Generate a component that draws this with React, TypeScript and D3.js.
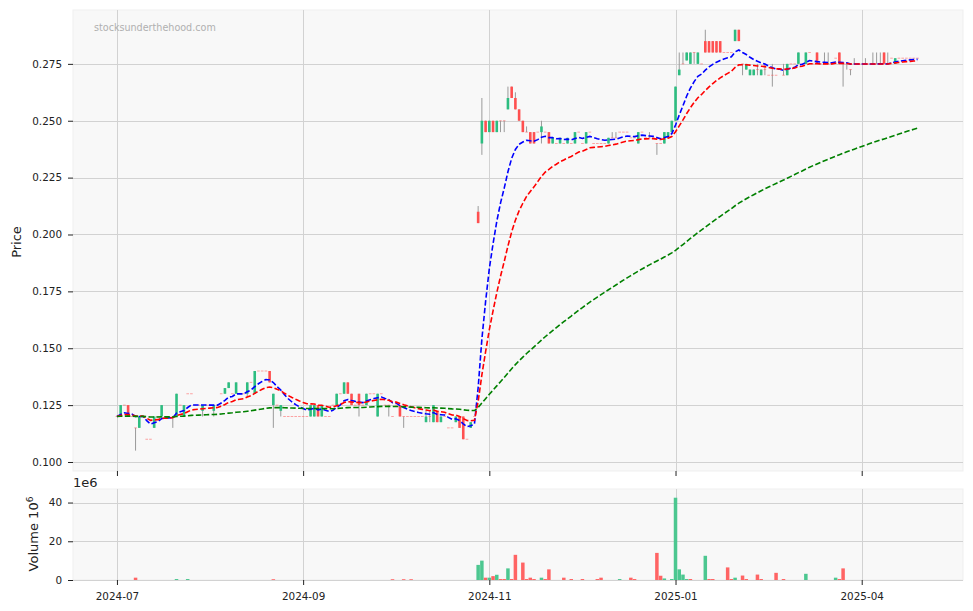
import React, { useRef, useEffect } from 'react'
import * as d3 from 'd3'

// daily bars, index 0 = first trading day of 2024-07
const opens = [
  0.12, 0.12, 0.125, 0.125, 0.12, 0.115, 0.115, 0.12, 0.11, 0.11,
  0.115, 0.12, 0.12, 0.12, 0.12, 0.12, 0.12, 0.125, 0.12, 0.13,
  0.13, 0.125, 0.125, 0.1225, 0.125, 0.125, 0.1225, 0.125, 0.13, 0.13,
  0.1325, 0.13, 0.13, 0.13, 0.13, 0.13, 0.135, 0.13, 0.14, 0.14,
  0.14, 0.14, 0.125, 0.125, 0.1225, 0.12, 0.12, 0.12, 0.12, 0.12,
  0.12, 0.12, 0.12, 0.12, 0.125, 0.12, 0.12, 0.12, 0.125, 0.125,
  0.13, 0.13, 0.135, 0.13, 0.125, 0.13, 0.125, 0.125, 0.13, 0.13,
  0.12, 0.13, 0.125, 0.125, 0.12, 0.125, 0.125, 0.12, 0.12, 0.12,
  0.12, 0.12, 0.12, 0.1175, 0.12, 0.1175, 0.1225, 0.1175, 0.12, 0.115,
  0.115, 0.1175, 0.12, 0.12, 0.11, 0.115, 0.12, 0.21, 0.24, 0.25,
  0.245, 0.25, 0.245, 0.25, 0.25, 0.255, 0.265, 0.26, 0.255, 0.25,
  0.245, 0.245, 0.245, 0.245, 0.245, 0.245, 0.245, 0.24, 0.24, 0.24,
  0.24, 0.24, 0.24, 0.24, 0.245, 0.24, 0.24, 0.245, 0.24, 0.24,
  0.24, 0.24, 0.24, 0.2425, 0.2425, 0.245, 0.245, 0.245, 0.2425, 0.2425,
  0.24, 0.245, 0.2425, 0.2425, 0.2425, 0.24, 0.24, 0.24, 0.2425, 0.245,
  0.25, 0.27, 0.275, 0.2765, 0.275, 0.28, 0.275, 0.275, 0.285, 0.285,
  0.285, 0.285, 0.285, 0.28, 0.28, 0.28, 0.285, 0.29, 0.275, 0.2725,
  0.27, 0.27, 0.2725, 0.27, 0.2725, 0.27, 0.27, 0.27, 0.2725, 0.27,
  0.27, 0.275, 0.275, 0.275, 0.275, 0.275, 0.28, 0.275, 0.28, 0.275,
  0.275, 0.275, 0.275, 0.2775, 0.28, 0.275, 0.275, 0.2725, 0.275, 0.275,
  0.275, 0.275, 0.275, 0.275, 0.275, 0.275, 0.28, 0.275, 0.2775, 0.275,
  0.2775, 0.2775, 0.2775, 0.2775, 0.2775, 0.2775,
]

const highs = [
  0.12, 0.125, 0.125, 0.125, 0.12, 0.115, 0.12, 0.12, 0.11, 0.11,
  0.12, 0.12, 0.125, 0.12, 0.12, 0.12, 0.13, 0.125, 0.125, 0.13,
  0.13, 0.125, 0.125, 0.125, 0.125, 0.125, 0.125, 0.125, 0.13, 0.1325,
  0.135, 0.13, 0.135, 0.13, 0.13, 0.135, 0.135, 0.14, 0.14, 0.14,
  0.14, 0.14, 0.13, 0.125, 0.125, 0.12, 0.12, 0.12, 0.12, 0.12,
  0.12, 0.12, 0.125, 0.125, 0.125, 0.125, 0.12, 0.12, 0.125, 0.13,
  0.13, 0.135, 0.135, 0.13, 0.125, 0.13, 0.125, 0.13, 0.13, 0.13,
  0.13, 0.13, 0.125, 0.125, 0.12, 0.125, 0.125, 0.12, 0.12, 0.12,
  0.12, 0.12, 0.12, 0.1225, 0.1225, 0.125, 0.1225, 0.12, 0.12, 0.115,
  0.115, 0.12, 0.12, 0.12, 0.11, 0.1175, 0.12, 0.2125, 0.26, 0.25,
  0.25, 0.25, 0.25, 0.25, 0.25, 0.265, 0.265, 0.2625, 0.255, 0.25,
  0.2475, 0.245, 0.245, 0.245, 0.25, 0.245, 0.245, 0.2425, 0.24, 0.2425,
  0.24, 0.2425, 0.24, 0.245, 0.245, 0.24, 0.245, 0.245, 0.24, 0.24,
  0.24, 0.24, 0.2425, 0.245, 0.245, 0.245, 0.245, 0.245, 0.2425, 0.2425,
  0.245, 0.245, 0.2425, 0.245, 0.2425, 0.24, 0.24, 0.245, 0.245, 0.25,
  0.265, 0.28, 0.28, 0.28, 0.28, 0.28, 0.28, 0.275, 0.29, 0.285,
  0.285, 0.285, 0.285, 0.28, 0.28, 0.28, 0.29, 0.29, 0.275, 0.275,
  0.2725, 0.2725, 0.275, 0.2725, 0.275, 0.27, 0.275, 0.27, 0.2725, 0.275,
  0.275, 0.275, 0.275, 0.28, 0.275, 0.28, 0.28, 0.275, 0.28, 0.275,
  0.28, 0.28, 0.275, 0.2775, 0.28, 0.275, 0.275, 0.2725, 0.2775, 0.275,
  0.275, 0.2775, 0.275, 0.28, 0.28, 0.28, 0.28, 0.28, 0.2775, 0.2775,
  0.2775, 0.2775, 0.2775, 0.2775, 0.2775, 0.2775,
]

const lows = [
  0.12, 0.12, 0.125, 0.12, 0.12, 0.105, 0.115, 0.12, 0.11, 0.11,
  0.115, 0.12, 0.12, 0.12, 0.12, 0.115, 0.12, 0.125, 0.12, 0.13,
  0.13, 0.125, 0.125, 0.12, 0.125, 0.125, 0.12, 0.125, 0.13, 0.13,
  0.1325, 0.13, 0.13, 0.13, 0.13, 0.1285, 0.135, 0.13, 0.14, 0.14,
  0.14, 0.135, 0.115, 0.125, 0.12, 0.12, 0.12, 0.12, 0.12, 0.12,
  0.12, 0.12, 0.12, 0.12, 0.12, 0.12, 0.12, 0.12, 0.125, 0.125,
  0.13, 0.13, 0.13, 0.125, 0.125, 0.12, 0.125, 0.125, 0.13, 0.13,
  0.12, 0.13, 0.125, 0.12, 0.12, 0.125, 0.12, 0.115, 0.12, 0.12,
  0.12, 0.12, 0.12, 0.1175, 0.1175, 0.1175, 0.1175, 0.1175, 0.12, 0.115,
  0.115, 0.1175, 0.115, 0.11, 0.11, 0.115, 0.12, 0.205, 0.235, 0.245,
  0.245, 0.245, 0.245, 0.245, 0.245, 0.255, 0.26, 0.255, 0.25, 0.245,
  0.245, 0.24, 0.24, 0.245, 0.24, 0.245, 0.24, 0.24, 0.24, 0.24,
  0.24, 0.24, 0.24, 0.24, 0.245, 0.24, 0.24, 0.245, 0.24, 0.24,
  0.24, 0.24, 0.24, 0.2425, 0.2425, 0.245, 0.245, 0.245, 0.2425, 0.2425,
  0.24, 0.245, 0.2425, 0.2425, 0.2425, 0.235, 0.24, 0.24, 0.2425, 0.245,
  0.25, 0.27, 0.275, 0.2765, 0.275, 0.275, 0.275, 0.275, 0.28, 0.28,
  0.28, 0.28, 0.28, 0.28, 0.28, 0.28, 0.285, 0.285, 0.27, 0.2725,
  0.27, 0.27, 0.27, 0.27, 0.27, 0.27, 0.265, 0.27, 0.2725, 0.27,
  0.27, 0.275, 0.275, 0.275, 0.275, 0.275, 0.28, 0.275, 0.275, 0.275,
  0.275, 0.275, 0.275, 0.2775, 0.275, 0.265, 0.2725, 0.27, 0.275, 0.275,
  0.275, 0.275, 0.275, 0.275, 0.275, 0.275, 0.275, 0.275, 0.2775, 0.275,
  0.2775, 0.2775, 0.2775, 0.2775, 0.2775, 0.2775,
]

const closes = [
  0.12, 0.125, 0.125, 0.12, 0.12, 0.115, 0.12, 0.12, 0.11, 0.11,
  0.12, 0.12, 0.125, 0.12, 0.12, 0.12, 0.13, 0.125, 0.125, 0.13,
  0.13, 0.125, 0.125, 0.125, 0.125, 0.125, 0.125, 0.125, 0.13, 0.1325,
  0.135, 0.13, 0.135, 0.13, 0.13, 0.135, 0.135, 0.14, 0.14, 0.14,
  0.14, 0.135, 0.13, 0.125, 0.125, 0.12, 0.12, 0.12, 0.12, 0.12,
  0.12, 0.12, 0.125, 0.125, 0.12, 0.125, 0.12, 0.12, 0.125, 0.13,
  0.13, 0.135, 0.13, 0.125, 0.125, 0.125, 0.125, 0.13, 0.13, 0.13,
  0.13, 0.13, 0.125, 0.125, 0.12, 0.125, 0.12, 0.12, 0.12, 0.12,
  0.12, 0.12, 0.12, 0.12, 0.12, 0.125, 0.1175, 0.12, 0.12, 0.115,
  0.115, 0.12, 0.115, 0.11, 0.11, 0.1175, 0.12, 0.205, 0.25, 0.245,
  0.25, 0.245, 0.25, 0.25, 0.25, 0.26, 0.26, 0.255, 0.25, 0.245,
  0.245, 0.24, 0.24, 0.245, 0.2475, 0.245, 0.24, 0.2425, 0.24, 0.2425,
  0.24, 0.2425, 0.24, 0.245, 0.245, 0.24, 0.245, 0.245, 0.24, 0.24,
  0.24, 0.24, 0.2425, 0.2425, 0.2425, 0.245, 0.245, 0.245, 0.2425, 0.2425,
  0.245, 0.245, 0.2425, 0.2425, 0.2425, 0.24, 0.24, 0.245, 0.245, 0.25,
  0.265, 0.2725, 0.275, 0.28, 0.28, 0.28, 0.28, 0.275, 0.28, 0.28,
  0.28, 0.28, 0.28, 0.28, 0.28, 0.28, 0.29, 0.285, 0.275, 0.275,
  0.2725, 0.2725, 0.2725, 0.2725, 0.2725, 0.27, 0.27, 0.27, 0.2725, 0.27,
  0.275, 0.275, 0.275, 0.28, 0.275, 0.28, 0.28, 0.275, 0.275, 0.275,
  0.275, 0.275, 0.275, 0.2775, 0.275, 0.275, 0.275, 0.2725, 0.275, 0.275,
  0.275, 0.275, 0.275, 0.275, 0.275, 0.275, 0.275, 0.275, 0.2775, 0.2775,
  0.2775, 0.2775, 0.2775, 0.2775, 0.2775, 0.2775,
]

// volume in millions of shares
const volumes = [
  0, 0, 0, 0, 0, 1.2, 0, 0, 0, 0,
  0, 0, 0, 0, 0, 0, 0.5, 0, 0, 0.5,
  0, 0, 0, 0, 0, 0, 0, 0, 0, 0,
  0, 0, 0, 0, 0, 0, 0, 0, 0, 0,
  0, 0, 0.4, 0, 0, 0, 0, 0, 0, 0,
  0, 0, 0, 0, 0, 0, 0, 0, 0, 0,
  0, 0, 0, 0, 0, 0, 0, 0, 0, 0,
  0, 0, 0, 0, 0.4, 0, 0, 0.4, 0, 0.4,
  0, 0, 0, 0, 0, 0, 0, 0, 0, 0,
  0, 0, 0, 0, 0, 0, 0, 7.8, 10, 1.2,
  1.2, 2.0, 2.7, 0.5, 0.5, 6, 0.5, 13, 0, 9,
  0.5, 1.2, 0.5, 0, 1.2, 0.5, 5.5, 0, 0, 0,
  1.2, 0, 0.5, 0, 0, 0.5, 0, 0, 0, 0.5,
  1.2, 0, 0, 0, 0, 0.5, 0, 0, 1.2, 0.5,
  0, 0, 0, 0, 0, 14, 2.2, 0.8, 0, 0.5,
  42.5, 5.5, 2.8, 0.5, 0.5, 0, 0, 0, 12.5, 0.5,
  0.5, 0, 0, 0, 6.5, 0.5, 1.2, 0, 2.3, 0.5,
  0, 0, 2.8, 0.5, 0, 0, 0, 3.7, 0, 0.5,
  0, 0, 0, 0, 0, 3.2, 0, 0, 0, 0,
  0, 0, 0, 1.2, 0.5, 6, 0, 0, 0, 0,
  0, 0, 0, 0, 0, 0, 0, 0, 0, 0,
  0, 0, 0, 0, 0, 0,
]

const tickIndex = [0, 50, 100, 150, 200]
const tickLabels = ['2024-07', '2024-09', '2024-11', '2025-01', '2025-04']
const priceTicks = [0.1, 0.125, 0.15, 0.175, 0.2, 0.225, 0.25, 0.275]
const volumeTicks = [0, 20, 40]
const maSpans = [10, 20, 125]
const maColors = ['blue', 'red', 'green']

const FONT = 'DejaVu Sans, sans-serif'

function ema(values: number[], span: number) {
  const a = 2 / (span + 1)
  const out: number[] = []
  values.forEach((v, i) => {
    out.push(i === 0 ? v : a * v + (1 - a) * out[i - 1])
  })
  return out
}

export default function App() {
  const svgRef = useRef<SVGSVGElement>(null)

  useEffect(() => {
    if (!svgRef.current) return
    const svg = d3.select(svgRef.current)
    svg.selectAll('*').remove()

    const left = 73
    const right = 963
    const priceTop = 10
    const priceBottom = 471
    const volTop = 489
    const volBottom = 580
    const n = closes.length
    const idx = d3.range(n)

    const x = d3.scaleLinear().domain([-11.8, n - 1 + 12.2]).range([left, right])
    const y = d3.scaleLinear().domain([0.09604, 0.29868]).range([priceBottom, priceTop])
    const yv = d3.scaleLinear().domain([0, 47]).range([volBottom, volTop])

    const bodyW = 2.6
    const volW = 3.5
    const upColor = '#2dbd80'
    const downColor = '#ff5050'
    const volUp = '#4cc790'
    const volDown = '#ff6464'
    const gridColor = '#d2d2d2'

    // panel backgrounds
    svg.append('rect').attr('x', left).attr('y', priceTop)
      .attr('width', right - left).attr('height', priceBottom - priceTop)
      .attr('fill', '#f8f8f8').attr('stroke', '#efefef')
    svg.append('rect').attr('x', left).attr('y', volTop)
      .attr('width', right - left).attr('height', volBottom - volTop)
      .attr('fill', '#f8f8f8').attr('stroke', '#efefef')

    // grids
    const grid = svg.append('g').attr('stroke', gridColor).attr('stroke-width', 1)
    priceTicks.forEach(t => {
      grid.append('line').attr('x1', left).attr('x2', right)
        .attr('y1', Math.round(y(t)) + 0.5).attr('y2', Math.round(y(t)) + 0.5)
    })
    volumeTicks.forEach(t => {
      grid.append('line').attr('x1', left).attr('x2', right)
        .attr('y1', Math.round(yv(t)) + 0.5).attr('y2', Math.round(yv(t)) + 0.5)
    })
    tickIndex.forEach(t => {
      const xx = Math.round(x(t)) + 0.5
      grid.append('line').attr('x1', xx).attr('x2', xx).attr('y1', priceTop).attr('y2', priceBottom)
      grid.append('line').attr('x1', xx).attr('x2', xx).attr('y1', volTop).attr('y2', volBottom)
    })

    // watermark
    svg.append('text').attr('x', 94).attr('y', 30.5)
      .attr('font-family', FONT).attr('font-size', 9.6).attr('fill', '#b0b0b0')
      .text('stocksunderthehood.com')

    // candles
    const cg = svg.append('g')
    idx.forEach(i => {
      const o = opens[i], c = closes[i], h = highs[i], l = lows[i]
      const cx = x(i)
      if (h > l) {
        cg.append('line').attr('x1', cx).attr('x2', cx)
          .attr('y1', y(h)).attr('y2', y(l))
          .attr('stroke', '#9a9a9a').attr('stroke-width', 1)
      }
      const up = c > o
      if (o === c) {
        cg.append('rect').attr('x', cx - bodyW / 2).attr('y', y(c) - 0.5)
          .attr('width', bodyW).attr('height', 1)
          .attr('fill', downColor).attr('opacity', 0.5)
      } else {
        const top = y(Math.max(o, c))
        const bot = y(Math.min(o, c))
        cg.append('rect').attr('x', cx - bodyW / 2).attr('y', top)
          .attr('width', bodyW).attr('height', Math.max(1, bot - top))
          .attr('fill', up ? upColor : downColor)
      }
    })

    // moving averages
    maSpans.forEach((span, k) => {
      const vals = ema(closes, span)
      const line = d3.line<number>().x(i => x(i)).y(i => y(vals[i]))
      svg.append('path').datum(idx).attr('d', line)
        .attr('fill', 'none').attr('stroke', maColors[k])
        .attr('stroke-width', 1.6).attr('stroke-dasharray', '5.5,2.4')
    })

    // volume bars
    const vg = svg.append('g')
    idx.forEach(i => {
      const v = volumes[i]
      if (v <= 0) return
      const up = i > 0 && closes[i] > closes[i - 1]
      vg.append('rect').attr('x', x(i) - volW / 2).attr('y', yv(v))
        .attr('width', volW).attr('height', yv(0) - yv(v))
        .attr('fill', up ? volUp : volDown)
    })

    // y axes
    const styleAxis = (g: d3.Selection<SVGGElement, unknown, null, undefined>) => {
      g.select('.domain').remove()
      g.selectAll('text').attr('font-family', FONT).attr('font-size', 10.4).attr('fill', '#222')
      g.selectAll('line').attr('stroke', '#222')
    }
    svg.append('g').attr('transform', `translate(${left},0)`)
      .call(d3.axisLeft(y).tickValues(priceTicks).tickFormat(d3.format('.3f')).tickSize(5).tickPadding(6))
      .call(styleAxis)
    svg.append('g').attr('transform', `translate(${left},0)`)
      .call(d3.axisLeft(yv).tickValues(volumeTicks).tickFormat(d3.format('d')).tickSize(5).tickPadding(6))
      .call(styleAxis)

    // x axes
    svg.append('g').attr('transform', `translate(0,${priceBottom})`)
      .call(d3.axisBottom(x).tickValues(tickIndex).tickFormat(() => '').tickSize(5))
      .call(styleAxis)
    svg.append('g').attr('transform', `translate(0,${volBottom})`)
      .call(d3.axisBottom(x).tickValues(tickIndex)
        .tickFormat((d, i) => tickLabels[i]).tickSize(5).tickPadding(8))
      .call(styleAxis)

    // labels
    svg.append('text').attr('transform', 'translate(21,242) rotate(-90)')
      .attr('text-anchor', 'middle').attr('font-family', FONT).attr('font-size', 13)
      .attr('fill', '#222').text('Price')
    const vl = svg.append('text').attr('transform', 'translate(38,534) rotate(-90)')
      .attr('text-anchor', 'middle').attr('font-family', FONT).attr('font-size', 13)
      .attr('fill', '#222')
    vl.append('tspan').text('Volume  10')
    vl.append('tspan').attr('dy', -5).attr('font-size', 9).text('6')
    svg.append('text').attr('x', 73).attr('y', 486.5)
      .attr('font-family', FONT).attr('font-size', 13).attr('fill', '#222').text('1e6')
  }, [])

  return (
    <svg ref={svgRef} width={973} height={611}
      style={{ position: 'absolute', left: 0, top: 0, background: '#fff' }} />
  )
}
